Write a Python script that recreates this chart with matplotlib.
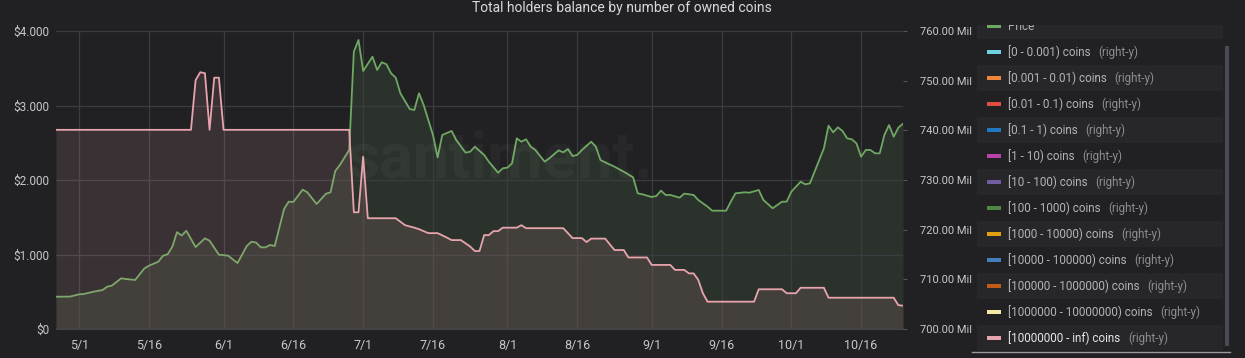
import matplotlib
matplotlib.use("Agg")
import matplotlib.pyplot as plt
import pandas as pd
from matplotlib.patches import Rectangle, FancyBboxPatch

# price series, left axis (USD)
price_dates = ["04-26", "04-29", "05-01", "05-02", "05-04", "05-06", "05-07", "05-08", "05-10", "05-11",
               "05-13", "05-15", "05-16", "05-18", "05-19", "05-20", "05-21", "05-22", "05-23", "05-24",
               "05-26", "05-28", "05-29", "05-31", "06-02", "06-04", "06-06", "06-07", "06-08", "06-09",
               "06-10", "06-11", "06-12", "06-14", "06-15", "06-16", "06-18", "06-19", "06-21", "06-23",
               "06-24", "06-25", "06-26", "06-28", "06-29", "06-30", "07-01", "07-03", "07-04", "07-05",
               "07-06", "07-07", "07-08", "07-09", "07-11", "07-12", "07-13", "07-14", "07-16", "07-17",
               "07-18", "07-20", "07-21", "07-23", "07-24", "07-25", "07-27", "07-28", "07-30", "07-31",
               "08-01", "08-02", "08-03", "08-04", "08-05", "08-06", "08-07", "08-09", "08-10", "08-12",
               "08-13", "08-14", "08-15", "08-16", "08-17", "08-19", "08-20", "08-21", "08-22", "08-24",
               "08-26", "08-28", "08-29", "08-30", "09-01", "09-02", "09-03", "09-04", "09-05", "09-07",
               "09-08", "09-10", "09-11", "09-13", "09-14", "09-17", "09-18", "09-19", "09-21", "09-22",
               "09-24", "09-25", "09-27", "09-29", "09-30", "10-01", "10-03", "10-04", "10-05", "10-06",
               "10-08", "10-09", "10-10", "10-11", "10-12", "10-13", "10-14", "10-15", "10-16", "10-17",
               "10-18", "10-19", "10-20", "10-21", "10-22", "10-23", "10-24", "10-25"]
price_usd = [433, 435, 466, 470, 500, 523, 568, 582, 680, 671,
             658, 814, 850, 904, 984, 1003, 1105, 1300, 1255, 1318,
             1100, 1217, 1185, 998, 984, 885, 1114, 1172, 1160, 1096,
             1096, 1128, 1114, 1610, 1709, 1705, 1870, 1835, 1678, 1815,
             1835, 2120, 2201, 2403, 3722, 3879, 3463, 3655, 3477, 3580,
             3553, 3432, 3373, 3164, 2953, 2940, 3164, 3007, 2604, 2304,
             2604, 2658, 2537, 2367, 2380, 2447, 2336, 2246, 2098, 2157,
             2166, 2224, 2559, 2514, 2546, 2447, 2403, 2246, 2291, 2398,
             2371, 2416, 2322, 2336, 2403, 2514, 2447, 2268, 2237, 2179,
             2111, 2036, 1821, 1808, 1772, 1785, 1857, 1799, 1799, 1763,
             1817, 1799, 1732, 1642, 1588, 1588, 1709, 1821, 1835, 1830,
             1866, 1732, 1620, 1709, 1709, 1843, 1977, 1942, 1955, 2111,
             2425, 2729, 2640, 2707, 2658, 2559, 2546, 2492, 2313, 2403,
             2403, 2358, 2358, 2604, 2738, 2581, 2702, 2756]

# [10000000 - inf) coins, right axis (millions)
whale_dates = ["04-26", "05-25", "05-26", "05-27", "05-28", "05-29", "05-30", "05-31", "06-01", "06-28",
               "06-29", "06-30", "07-01", "07-02", "07-08", "07-10", "07-12", "07-13", "07-15", "07-17",
               "07-19", "07-20", "07-22", "07-24", "07-25", "07-26", "07-27", "07-28", "07-29", "07-30",
               "07-31", "08-03", "08-04", "08-05", "08-13", "08-15", "08-17", "08-18", "08-19", "08-22",
               "08-24", "08-26", "08-27", "08-31", "09-01", "09-05", "09-06", "09-08", "09-09", "09-10",
               "09-11", "09-12", "09-13", "09-23", "09-24", "09-29", "09-30", "10-02", "10-03", "10-08",
               "10-09", "10-23", "10-24", "10-25"]
whale_mil = [740.1, 740.1, 750.1, 751.7, 751.5, 740.1, 750.6, 750.6, 740.1, 740.1,
             723.5, 723.5, 734.7, 722.3, 722.3, 720.9, 720.4, 720.1, 719.3, 719.3,
             718.4, 717.9, 717.9, 716.6, 715.7, 715.7, 718.9, 718.9, 719.7, 719.7,
             720.4, 720.4, 720.9, 720.3, 720.3, 718.3, 718.3, 717.5, 718.2, 718.2,
             715.9, 715.9, 714.4, 714.4, 712.9, 712.9, 711.9, 711.9, 711.2, 711.2,
             709.9, 707.2, 705.5, 705.5, 708.0, 708.0, 707.2, 707.2, 708.3, 708.3,
             706.3, 706.3, 704.8, 704.7]

x_ticks = ["05-01", "05-16", "06-01", "06-16", "07-01", "07-16", "08-01", "08-16", "09-01", "09-16", "10-01", "10-16"]
left_ticks = [0, 1000, 2000, 3000, 4000]
left_labels = ["$0", "$1.000", "$2.000", "$3.000", "$4.000"]
right_ticks = [700, 710, 720, 730, 740, 750, 760]

legend_labels = ["Price", "[0 - 0.001) coins", "[0.001 - 0.01) coins", "[0.01 - 0.1) coins",
                 "[0.1 - 1) coins", "[1 - 10) coins", "[10 - 100) coins", "[100 - 1000) coins",
                 "[1000 - 10000) coins", "[10000 - 100000) coins", "[100000 - 1000000) coins",
                 "[1000000 - 10000000) coins", "[10000000 - inf) coins"]
legend_colors = ["#6fa862", "#6ed0e0", "#ef843c", "#e24d42", "#1f78c1", "#ba43a9", "#705da0",
                 "#508642", "#e0a010", "#447ebc", "#c15c17", "#f4eaa8", "#e8a4ac"]

bg = "#212124"
txt = "#c8c8ca"
green = "#6fa862"
pink = "#e8a4ac"

plt.rcParams["font.family"] = ["Roboto", "DejaVu Sans"]

pd_price = pd.to_datetime(["2021-" + d for d in price_dates])
pd_whale = pd.to_datetime(["2021-" + d for d in whale_dates])
pd_ticks = pd.to_datetime(["2021-" + d for d in x_ticks])

fig = plt.figure(figsize=(12.45, 3.58), dpi=100, facecolor=bg)
W, H = 1245, 358
ax = fig.add_axes([56 / W, 29 / H, 847 / W, 298 / H])
ax.set_facecolor(bg)

ax.fill_between(pd_price, 0, price_usd, color=green, alpha=0.13, lw=0)
ax.plot(pd_price, price_usd, color=green, lw=1.3)
ax.set_ylim(0, 4000)
ax.set_xlim(pd_price[0], pd_price[-1])
ax.set_yticks(left_ticks)
ax.set_yticklabels(left_labels)
ax.set_xticks(pd_ticks)
ax.set_xticklabels([f"{d.month}/{d.day}" for d in pd_ticks])
ax.grid(True, color="#3c3c40", lw=0.9)
ax.tick_params(axis="both", colors=txt, labelsize=9, length=0)
ax.tick_params(axis="y", pad=5, labelsize=8.5)
ax.tick_params(axis="x", pad=7)
for s in ax.spines.values():
    s.set_visible(False)
ax.spines["bottom"].set_visible(True)
ax.spines["bottom"].set_color("#3c3c40")

ax2 = ax.twinx()
ax2.fill_between(pd_whale, 700, whale_mil, color=pink, alpha=0.13, lw=0)
ax2.plot(pd_whale, whale_mil, color=pink, lw=1.3)
ax2.set_ylim(700, 760)
ax2.set_yticks(right_ticks)
ax2.set_yticklabels([f"{v:.2f} Mil" for v in right_ticks])
ax2.tick_params(axis="y", colors=txt, labelsize=8, length=3, pad=9, color="#555558")
for s in ax2.spines.values():
    s.set_visible(False)

# watermark
fig.text(500 / W, 1 - 160 / H, "santiment.", fontsize=46, color="white", alpha=0.035,
         ha="center", va="center", fontweight="bold")

fig.text(622 / W, 1 - 8 / H, "Total holders balance by number of owned coins",
         ha="center", va="center", fontsize=10, color="#d8d9da")

# legend panel
lax = fig.add_axes([977 / W, 8 / H, 246 / W, 325 / H])
lax.set_xlim(0, 246)
lax.set_ylim(325, 0)
lax.axis("off")
for i, (lab, col) in enumerate(zip(legend_labels, legend_colors)):
    yc = 1 + 26 * i
    if i % 2 == 0:
        lax.add_patch(Rectangle((0, yc - 13), 246, 26, color="#27272a", lw=0, clip_on=True))
    lax.add_patch(Rectangle((10, yc - 2), 14, 4, color=col, lw=0, clip_on=True))
    tcol = "#e6e6e8" if i == len(legend_labels) - 1 else "#b4b4b7"
    t = lax.text(31, yc, lab, color=tcol, fontsize=8.4, va="center", ha="left", clip_on=True)
    if i > 0:
        lax.annotate("(right-y)", xy=(1, 0.5), xycoords=t, xytext=(5.5, 0), textcoords="offset points",
                     color="#8e8e92", fontsize=8.4, va="center", ha="left", annotation_clip=False)

# scrollbar and bottom rule
fig.patches.append(FancyBboxPatch((1225 / W, 12 / H), 4 / W, 300 / H, boxstyle="round,pad=0",
                                  transform=fig.transFigure, color="#4a4a56", lw=0))
fig.lines.append(plt.Line2D([972 / W, 1230 / W], [1 - 352 / H, 1 - 352 / H],
                            transform=fig.transFigure, color="#9a9a9e", lw=1))

fig.savefig("out.png", dpi=100, facecolor=bg)
